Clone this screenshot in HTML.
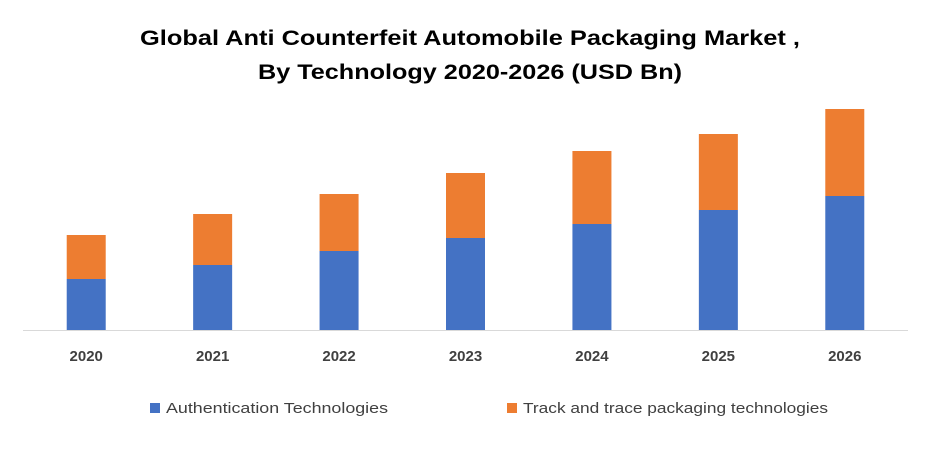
<!DOCTYPE html>
<html><head><meta charset="utf-8"><style>
body{margin:0;background:#fff;}
svg{display:block;font-family:"Liberation Sans",sans-serif;}
</style></head><body>
<svg id="chart" width="941" height="459">
<text x="470" y="45" text-anchor="middle" font-size="21" font-weight="bold" fill="#000" textLength="660" lengthAdjust="spacingAndGlyphs">Global Anti Counterfeit Automobile Packaging Market ,</text>
<text x="470" y="79" text-anchor="middle" font-size="21" font-weight="bold" fill="#000" textLength="424" lengthAdjust="spacingAndGlyphs">By Technology 2020-2026 (USD Bn)</text>
<g id="bars"></g>
<line x1="23" y1="330.5" x2="908" y2="330.5" stroke="#d9d9d9" stroke-width="1"/>
<g id="ticks"></g>
<rect x="150" y="403" width="10" height="10" fill="#4472c4"/>
<text x="166" y="413" font-size="15" fill="#404040" textLength="222" lengthAdjust="spacingAndGlyphs">Authentication Technologies</text>
<rect x="507" y="403" width="10" height="10" fill="#ed7d31"/>
<text x="523" y="413" font-size="15" fill="#404040" textLength="305" lengthAdjust="spacingAndGlyphs">Track and trace packaging technologies</text>
</svg>
<script>
const categories = ["2020","2021","2022","2023","2024","2025","2026"];
const authentication = [0.51,0.65,0.79,0.92,1.06,1.20,1.34];
const trackTrace = [0.44,0.51,0.57,0.65,0.73,0.76,0.87];
const plotLeft = 23, plotRight = 908, baseY = 330, pxPerUnit = 100;
const band = (plotRight - plotLeft) / categories.length;
const barW = 39;
function xCenter(i){ return plotLeft + band * (i + 0.5); }
function yScale(v){ return baseY - v * pxPerUnit; }
const NS = "http://www.w3.org/2000/svg";
const bars = document.getElementById("bars");
const ticks = document.getElementById("ticks");
categories.forEach((c, i) => {
  const x = xCenter(i) - barW / 2;
  const a = authentication[i], t = trackTrace[i];
  const r1 = document.createElementNS(NS, "rect");
  r1.setAttribute("x", x); r1.setAttribute("width", barW);
  r1.setAttribute("y", yScale(a)); r1.setAttribute("height", baseY - yScale(a));
  r1.setAttribute("fill", "#4472c4");
  
  
  bars.appendChild(r1);
  const r2 = document.createElementNS(NS, "rect");
  r2.setAttribute("x", x); r2.setAttribute("width", barW);
  r2.setAttribute("y", yScale(a + t)); r2.setAttribute("height", yScale(a) - yScale(a + t));
  r2.setAttribute("fill", "#ed7d31");
  
  
  bars.appendChild(r2);
  const tx = document.createElementNS(NS, "text");
  tx.setAttribute("x", xCenter(i)); tx.setAttribute("y", 361);
  tx.setAttribute("text-anchor", "middle"); tx.setAttribute("font-size", "15");
  tx.setAttribute("font-weight", "bold"); tx.setAttribute("fill", "#404040");
  tx.textContent = c;
  
  
  ticks.appendChild(tx);
});
</script>
</body></html>
